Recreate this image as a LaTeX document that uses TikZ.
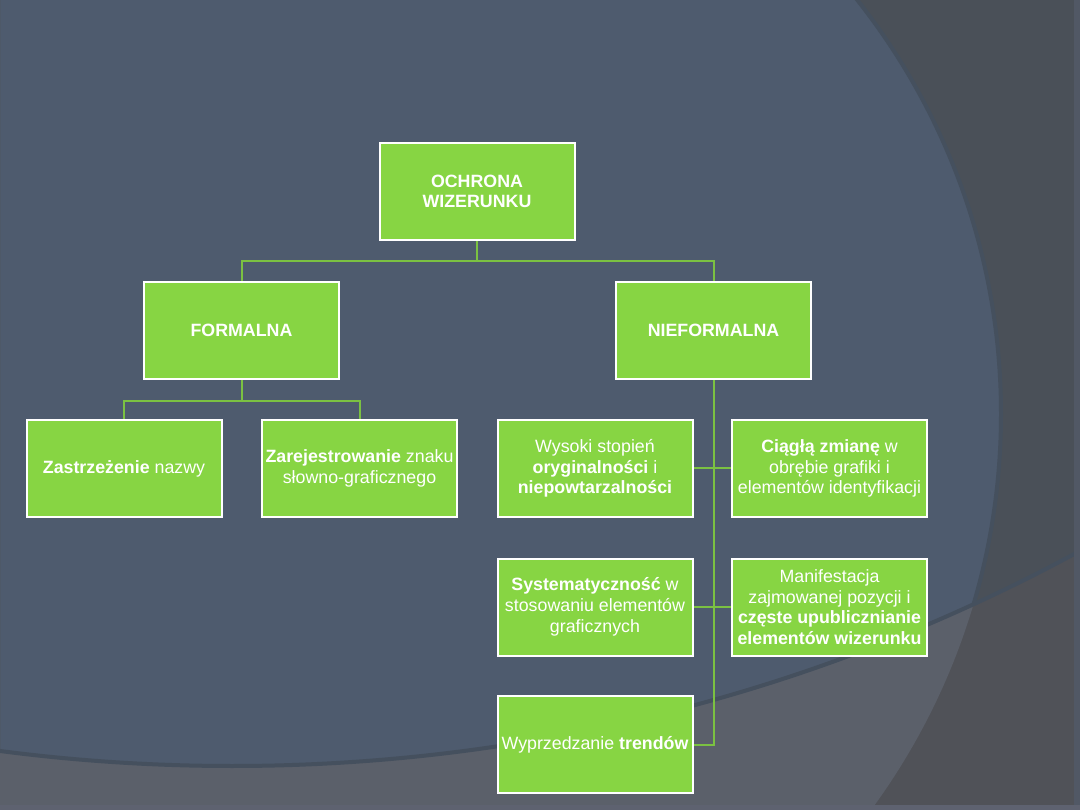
\documentclass[tikz,border=0pt]{standalone}
\usepackage{fontspec}
\setmainfont{Liberation Sans}
\definecolor{bgmain}{HTML}{4E5B6E}
\definecolor{bgdark}{HTML}{4A5058}
\definecolor{bgbelow}{HTML}{5B606A}
\definecolor{bgbelowdark}{HTML}{505258}
\definecolor{edgeline}{HTML}{45505E}
\definecolor{rightstrip}{HTML}{515865}
\definecolor{bottomstrip}{HTML}{5E6270}
\definecolor{boxgreen}{HTML}{87D543}
\definecolor{conngreen}{HTML}{7BC142}
\pgfdeclarelayer{back}
\pgfdeclarelayer{mid}
\pgfsetlayers{back,mid,main}
\begin{document}
\begin{tikzpicture}[x=1pt,y=-1pt,
  box/.style={draw=white, line width=2pt, fill=boxgreen, minimum width=195pt,
    minimum height=97pt, inner sep=0pt, align=center, text=white,
    font=\fontsize{17.8}{20.7}\selectfont},
  conn/.style={draw=conngreen, line width=2pt},
  edge/.style={draw=edgeline, line width=4pt}]
\useasboundingbox (0,0) rectangle (1080,810);
\begin{pgfonlayer}{back}
\begin{scope}
\clip (0,0) rectangle (1080,810);
\fill[bgmain] (0,0) rectangle (1080,810);
\fill[bgdark, even odd rule] (0,0) rectangle (1080,810) (333,414) circle[radius=668pt];
\fill[bgbelowdark, even odd rule] (0,0) rectangle (1080,810) (232,-1010) circle[radius=1776pt];
\begin{scope}
\clip (333,414) circle[radius=668pt];
\fill[bgbelow, even odd rule] (0,0) rectangle (1080,810) (232,-1010) circle[radius=1776pt];
\end{scope}
\begin{scope}
\clip (232,-1010) circle[radius=1776pt];
\draw[edge] (333,414) circle[radius=668pt];
\end{scope}
\draw[edge] (232,-1010) circle[radius=1776pt];
\fill[rightstrip] (1074,0) rectangle (1080,810);
\fill[bottomstrip] (0,805) rectangle (1080,810);
\end{scope}
\end{pgfonlayer}

\node[box] (top) at (477,191.5) {\textbf{OCHRONA}\\\textbf{WIZERUNKU}};
\node[box] (formalna) at (241.5,330.5) {\textbf{FORMALNA}};
\node[box] (nieformalna) at (713.5,330.5) {\textbf{NIEFORMALNA}};
\node[box] (zastrz) at (124,468.5) {\textbf{Zastrzeżenie} nazwy};
\node[box] (zarej) at (359.5,468.5) {\textbf{Zarejestrowanie} znaku\\słowno-graficznego};
\node[box] (wysoki) at (595,468.5) {Wysoki stopień\\\textbf{oryginalności} i\\\textbf{niepowtarzalności}};
\node[box] (ciagla) at (829.5,468.5) {\textbf{Ciągłą zmianę} w\\obrębie grafiki i\\elementów identyfikacji};
\node[box] (system) at (595,607) {\textbf{Systematyczność} w\\stosowaniu elementów\\graficznych};
\node[box] (manif) at (829.5,607) {Manifestacja\\zajmowanej pozycji i\\\textbf{częste upublicznianie}\\\textbf{elementów wizerunku}};
\node[box] (wyprz) at (595,744.5) {Wyprzedzanie \textbf{trendów}};

\begin{pgfonlayer}{mid}
\draw[conn] (top.south) -- ++(0,20) -| (formalna.north);
\draw[conn] (top.south) -- ++(0,20) -| (nieformalna.north);
\draw[conn] (formalna.south) -- ++(0,21) -| (zastrz.north);
\draw[conn] (formalna.south) -- ++(0,21) -| (zarej.north);
\draw[conn] (nieformalna.south) |- (wyprz.east);
\draw[conn] (wysoki.east) -- (ciagla.west);
\draw[conn] (system.east) -- (manif.west);
\end{pgfonlayer}
\end{tikzpicture}
\end{document}
